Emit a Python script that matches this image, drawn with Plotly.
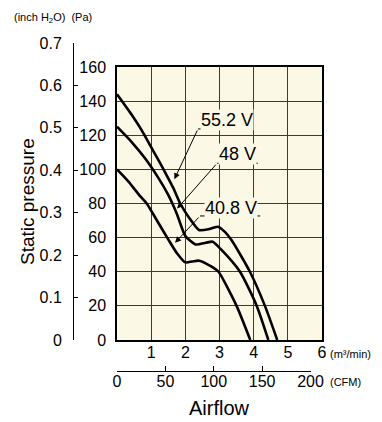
import plotly.graph_objects as go

# ---- data (m3/min, Pa) ----
flow_552 = [0, 0.43, 0.72, 1.0, 1.21, 1.45, 1.65, 1.85, 2.1, 2.4, 2.7, 2.96, 3.15, 3.35, 3.89, 4.33, 4.69]
pres_552 = [144, 132, 123, 113, 105.5, 96.7, 89, 80, 72, 64.5, 65, 66.4, 63.5, 58.6, 40, 20, 0]

flow_48 = [0, 0.43, 0.82, 1.21, 1.5, 1.75, 2.0, 2.3, 2.6, 2.8, 3.06, 3.6, 4.09, 4.43]
pres_48 = [125, 116, 106.5, 95, 85, 74, 61, 56, 57, 57.6, 52.8, 40, 20, 0]

flow_408 = [0, 0.33, 0.67, 0.87, 1.2, 1.5, 1.75, 2.0, 2.2, 2.4, 2.77, 2.97, 3.5, 3.9]
pres_408 = [100, 93, 84.5, 80, 69, 59, 51, 45.5, 46, 46.5, 43, 40, 20, 0]

series_names = ["55.2 V", "48 V", "40.8 V"]
# label text centre, underline start/end, arrow tip  (data coords)
label_xy = [(3.22, 129), (3.53, 109), (3.35, 77.5)]
underline_x = [(2.37, 3.94), (2.93, 4.12), (2.43, 4.19)]
underline_y = [123.7, 103.6, 72.7]
arrow_tip = [(1.68, 94.2), (1.76, 77.0), (1.70, 57.0)]

x_ticks = [1, 2, 3, 4, 5, 6]
pa_ticks = [0, 20, 40, 60, 80, 100, 120, 140, 160]
inch_ticks = [0, 0.1, 0.2, 0.3, 0.4, 0.5, 0.6, 0.7]
inch_labels = ["0", "0.1", "0.2", "0.3", "0.4", "0.5", "0.6", "0.7"]
cfm_ticks = [0, 50, 100, 150, 200]

# the page body has an 8px margin, so the figure is laid out 8px in from the window corner
OFF = 8
W, H = 382 - OFF, 422 - OFF
def px(v): return (v - OFF) / W
def py(v): return 1 - (v - OFF) / H

NUM_FONT = dict(family="Liberation Sans, Arial, sans-serif", size=16, color="black")
TXT = "Liberation Sans, Arial, sans-serif"
BG = "#FCF8E6"

fig = go.Figure()
for fx, fy in [(flow_552, pres_552), (flow_48, pres_48), (flow_408, pres_408)]:
    fig.add_trace(go.Scatter(x=fx, y=fy, mode="lines",
                             line=dict(color="black", width=2.6, shape="spline", smoothing=0.6),
                             showlegend=False, hoverinfo="skip"))
# dummy trace to realise secondary axes
fig.add_trace(go.Scatter(x=[0], y=[0], xaxis="x2", yaxis="y2", mode="markers",
                         marker=dict(opacity=0), showlegend=False, hoverinfo="skip"))

shapes = [dict(type="rect", xref="x domain", yref="y domain", x0=0, x1=1, y0=0, y1=1,
               fillcolor=BG, line=dict(width=0), layer="below")]
annotations = []
for name, (lx, ly), (ux0, ux1), uy, (tx, ty) in zip(series_names, label_xy, underline_x, underline_y, arrow_tip):
    annotations.append(dict(x=lx, y=ly, xref="x", yref="y", text=name, showarrow=False,
                            font=dict(family=TXT, size=18, color="black"), bgcolor=BG,
                            borderpad=0))
    shapes.append(dict(type="line", xref="x", yref="y", x0=ux0, x1=ux1, y0=uy, y1=uy,
                       line=dict(color="black", width=1)))
    annotations.append(dict(x=tx, y=ty, ax=ux0, ay=uy, xref="x", yref="y", axref="x", ayref="y",
                            text="", showarrow=True, arrowhead=2, arrowsize=1.2, arrowwidth=1,
                            arrowcolor="black", standoff=0))

annotations += [
    dict(x=px(12), y=py(18), xref="paper", yref="paper", xanchor="left", yanchor="middle",
         text="(inch H<sub>2</sub>O)  (Pa)", showarrow=False, font=dict(family=TXT, size=11, color="black")),
    dict(x=px(328), y=py(354), xref="paper", yref="paper", xanchor="left", yanchor="middle",
         text="(m³/min)", showarrow=False, font=dict(family=TXT, size=11, color="black")),
    dict(x=px(328), y=py(382), xref="paper", yref="paper", xanchor="left", yanchor="middle",
         text="(CFM)", showarrow=False, font=dict(family=TXT, size=11, color="black")),
    dict(x=px(27), y=py(202), xref="paper", yref="paper", xanchor="center", yanchor="middle",
         text="Static pressure", textangle=-90, showarrow=False, font=dict(family=TXT, size=19, color="black")),
    dict(x=px(219), y=py(408), xref="paper", yref="paper", xanchor="center", yanchor="middle",
         text="Airflow", showarrow=False, font=dict(family=TXT, size=20, color="black")),
]

fig.update_layout(
    width=W, height=H, margin=dict(l=0, r=0, t=0, b=0, autoexpand=False),
    paper_bgcolor="white", plot_bgcolor="rgba(0,0,0,0)",
    xaxis=dict(domain=[px(117), px(322)], range=[0, 6], tickvals=x_ticks, showgrid=True,
               gridcolor="#3a3a3a", gridwidth=1.4, showline=True, mirror=True, linecolor="black",
               linewidth=1.5, zeroline=False, ticks="", tickfont=NUM_FONT, ticklabelstandoff=-3,
               anchor="y", fixedrange=True, automargin=False),
    yaxis=dict(domain=[py(340), py(67)], range=[0, 160], tickvals=pa_ticks, showgrid=True,
               gridcolor="#3a3a3a", gridwidth=1.4, showline=True, mirror=True, linecolor="black",
               linewidth=1.5, zeroline=False, ticks="", tickfont=NUM_FONT, ticklabelstandoff=6,
               anchor="x", fixedrange=True, automargin=False),
    xaxis2=dict(domain=[px(117), px(310.5)], range=[0, 200], tickvals=cfm_ticks, anchor="free",
                position=py(371), showgrid=False, zeroline=False, showline=True, linecolor="black",
                linewidth=1, ticks="inside", ticklen=5, tickcolor="black", tickfont=NUM_FONT,
                ticklabelstandoff=-4, fixedrange=True, automargin=False),
    yaxis2=dict(domain=[py(340), py(43)], range=[0, 0.7], tickvals=inch_ticks, ticktext=inch_labels,
                anchor="free", position=px(73), side="left", showgrid=False, zeroline=False,
                showline=True, linecolor="black", linewidth=1, ticks="inside", ticklen=4,
                tickcolor="black", tickfont=NUM_FONT, ticklabelstandoff=8, fixedrange=True,
                automargin=False),
    shapes=shapes, annotations=annotations,
)

fig.write_html("out.html")
